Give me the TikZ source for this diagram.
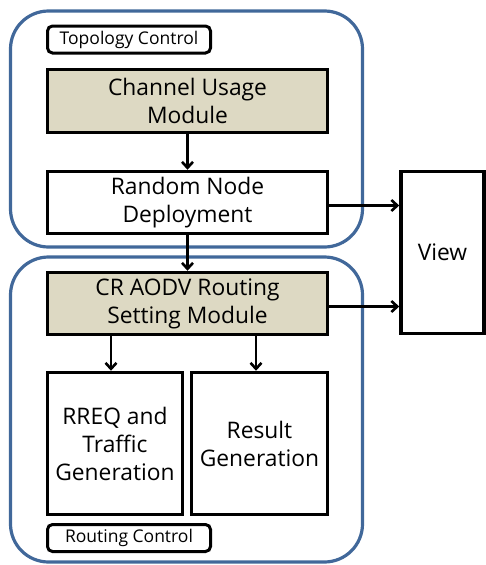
\documentclass[tikz,border=0pt]{standalone}
\usepackage{fontspec}
\setmainfont{Open Sans}
\usetikzlibrary{arrows.meta, positioning, calc}
\definecolor{groupblue}{HTML}{41689A}
\definecolor{moduletan}{HTML}{DDD9C3}

\begin{document}
\begin{tikzpicture}[
  x=1pt, y=-1pt,
  group/.style={rectangle, rounded corners=38pt, draw=groupblue, line width=3.2pt},
  tag/.style={rectangle, rounded corners=5pt, draw=black, line width=3pt, fill=white, minimum width=163pt, minimum height=27pt, font=\fontsize{17.5}{20}\selectfont},
  block/.style={rectangle, draw=black, line width=3.5pt, fill=white, align=center, font=\fontsize{22.8}{28}\selectfont},
  module/.style={block, fill=moduletan},
  arrow/.style={-{Straight Barb[length=6pt, width=11pt]}, line width=2.6pt}
]
  \useasboundingbox (0,0) rectangle (486,565);

  % the two groups
  \node[group, minimum width=352pt, minimum height=236pt] (topgrp) at (186.5, 129) {};
  \node[group, minimum width=352pt, minimum height=305pt] (botgrp) at (186.5, 409.5) {};

  \node[tag] (topotag) at (129, 39.5) {Topology Control};
  \node[module, minimum width=280pt, minimum height=63pt] (usage) at (187.5, 101) {Channel Usage\\Module};
  \node[block, minimum width=280pt, minimum height=62pt] (deploy) at (187.5, 202.5) {Random Node\\Deployment};
  \node[block, minimum width=83pt, minimum height=162pt] (view) at (442.5, 252.5) {View};

  \node[module, minimum width=280pt, minimum height=62pt] (routing) at (187.5, 303.5) {CR AODV Routing\\Setting Module};
  \node[block, minimum width=135pt, minimum height=142pt] (rreq) at (115, 443.5) {RREQ and\\Traffic\\Generation};
  \node[block, minimum width=136pt, minimum height=142pt] (result) at (259.5, 443.5) {Result\\Generation};
  \node[tag] (routtag) at (129, 538) {Routing Control};

  % arrow ends
  \coordinate (deployout) at ($(deploy.east)+(0,3)$);
  \coordinate (routingout) at ($(routing.east)+(0,3)$);
  \coordinate (rreqin) at ($(rreq.north)+(-4,0)$);
  \coordinate (resultin) at ($(result.north)+(-3.5,0)$);

  \draw[arrow] (usage) -- (deploy);
  \draw[arrow] (deploy) -- (routing);
  \draw[arrow] (deployout) -- (deployout -| view.west);
  \draw[arrow] (routingout) -- (routingout -| view.west);
  \draw[arrow] (rreqin |- routing.south) -- (rreqin);
  \draw[arrow] (resultin |- routing.south) -- (resultin);
\end{tikzpicture}
\end{document}
